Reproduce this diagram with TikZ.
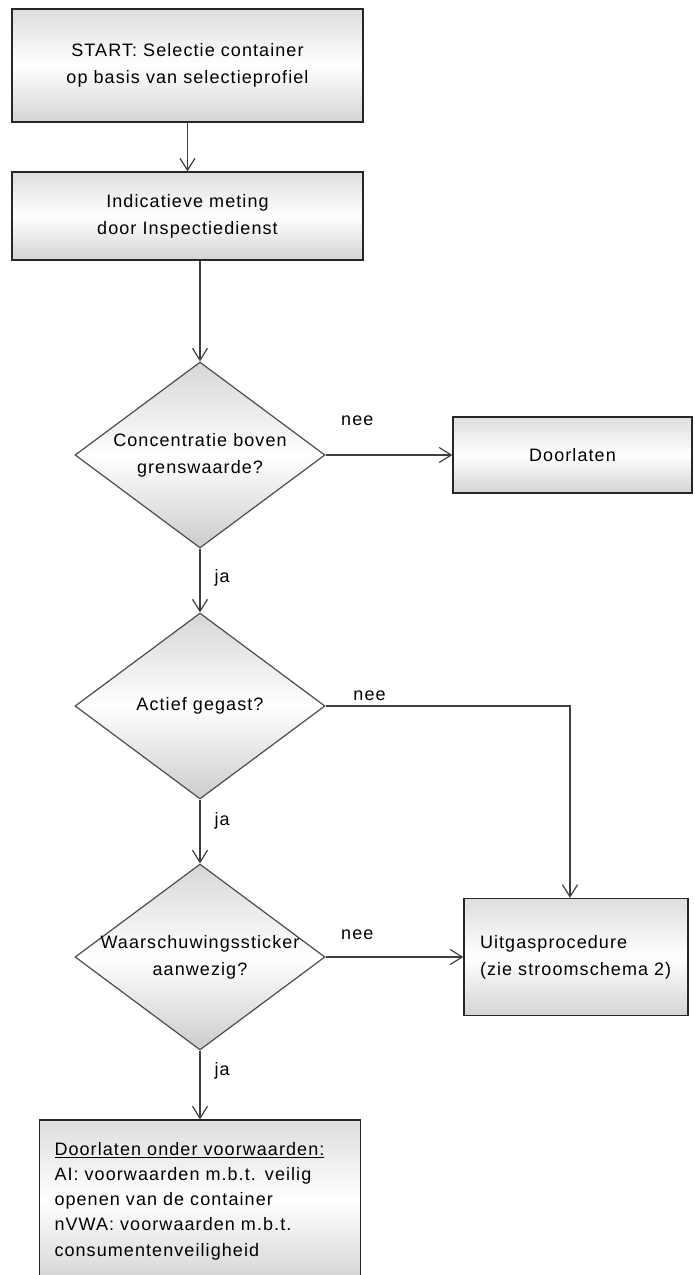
\documentclass[tikz,border=0pt]{standalone}
\usepackage{fontspec}
\setmainfont{Liberation Sans}[LetterSpace=6]
\usetikzlibrary{shapes.geometric,arrows.meta,positioning}

\begin{document}
\begin{tikzpicture}[x=1pt,y=-1pt,on grid,
	font=\fontsize{18}{27}\selectfont,
	>={Straight Barb[length=12pt,width=15pt]},
	link/.style={draw=black!75,line width=1.2pt,->},
	every edge/.style={link},
	box/.style={rectangle,draw=black!85,line width=1.3pt,inner sep=0pt,
		top color=black!13,bottom color=black!17,middle color=white},
	choice/.style={diamond,draw=black!70,line width=1.2pt,inner sep=0pt,
		minimum width=250pt,minimum height=186pt,
		top color=black!16,bottom color=black!20,middle color=white},
	lbl/.style={inner sep=0pt}]
	\useasboundingbox (0,0) rectangle (694,1275);
	\node[box,minimum width=351pt,minimum height=113pt,align=center] (start) at (187.5,65.5)
		{START: Selectie container\\op basis van selectieprofiel};
	\node[box,minimum width=351pt,minimum height=88pt,align=center,below=150.5pt of start] (meting)
		{Indicatieve meting\\door Inspectiedienst};
	\node[choice,label={[name=d1t,align=center]center:Concentratie boven\\grenswaarde?}] (d1) at (200,455) {};
	\node[choice,label={[name=d2t]center:Actief gegast?},below=251pt of d1] (d2) {};
	\node[choice,label={[name=d3t,align=center]center:Waarschuwingssticker\\aanwezig?},below=251pt of d2] (d3) {};
	\node[box,minimum width=239pt,minimum height=76pt,right=372.5pt of d1] (door) {Doorlaten};
	\node[box,text width=192pt,inner xsep=16pt,minimum height=117pt,align=left,right=376pt of d3] (uitgas)
		{Uitgasprocedure\\(zie stroomschema 2)};
	\node[box,text width=291pt,inner xsep=15pt,minimum height=162pt,align=left,below=244pt of d3,
		font=\fontsize{18}{25.2}\selectfont] (final)
		{\underline{Doorlaten onder voorwaarden:}\\AI: voorwaarden m.b.t. veilig\\openen van de container\\nVWA: voorwaarden m.b.t.\\consumentenveiligheid};
	\draw (start) edge[->] (meting)
		(meting.south -| d1.north) edge[->] (d1)
		(d1) edge[->] node[lbl,pos=.25,yshift=34pt] {nee} (door)
		(d1) edge[->] node[lbl,pos=.46,anchor=west,xshift=14pt] {ja} (d2)
		(d2) edge[->] node[lbl,pos=.34,anchor=west,xshift=14pt] {ja} (d3)
		(d3) edge[->] node[lbl,pos=.23,yshift=22pt] {nee} (uitgas)
		(d3) edge[->] node[lbl,pos=.3,anchor=west,xshift=14pt] {ja} (final);
	\draw[link] (d2.east) -| node[lbl,pos=.09,yshift=10pt] {nee} ([xshift=-6pt]uitgas.north);
\end{tikzpicture}
\end{document}
